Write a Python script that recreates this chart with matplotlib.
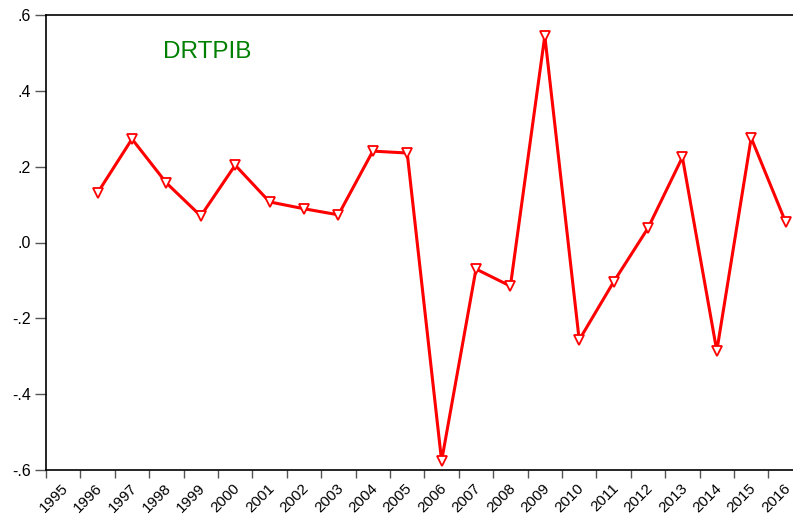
import matplotlib
matplotlib.use("Agg")
import matplotlib.pyplot as plt
import numpy as np

plt.rcParams['font.family'] = ['Liberation Sans', 'DejaVu Sans']

years = list(range(1996, 2017))
values = [0.131, 0.273, 0.157, 0.070, 0.204, 0.107, 0.089, 0.073, 0.241, 0.236,
          -0.576, -0.070, -0.115, 0.545, -0.257, -0.104, 0.038, 0.225, -0.286, 0.276, 0.054]
tick_years = list(range(1995, 2017))
ytick_vals = [-0.6, -0.4, -0.2, 0.0, 0.2, 0.4, 0.6]
ytick_labels = ['-.6', '-.4', '-.2', '.0', '.2', '.4', '.6']

fig = plt.figure(figsize=(7.93, 5.18), dpi=100)
ax = fig.add_axes([46/793, 48/518, 1 - 46/793, (470-15)/518])

x = np.array(years) + 0.5
ax.plot(x, values, color='#ff0000', linewidth=2.2, marker='v', markersize=6.5,
        markerfacecolor='white', markeredgecolor='#ff0000', markeredgewidth=1.3)

ax.set_xlim(1995, 1995 + (793 - 46) / 34.4)
ax.set_ylim(-0.6, 0.6)
ax.set_xticks(tick_years)
ax.set_xticklabels([str(t) for t in tick_years], rotation=45, ha='right',
                   rotation_mode='anchor', fontsize=11)
ax.set_yticks(ytick_vals)
ax.set_yticklabels(ytick_labels, fontsize=11.5)
ax.tick_params(axis='x', direction='out', length=6, width=1, color='#555555', pad=2)
ax.tick_params(axis='y', direction='out', length=8, width=1, color='#555555', pad=3)
for lbl in ax.get_xticklabels():
    lbl.set_transform(lbl.get_transform() + matplotlib.transforms.ScaledTranslation(0.15, 0, fig.dpi_scale_trans))
ax.spines['right'].set_visible(False)
for s in ['left', 'top', 'bottom']:
    ax.spines[s].set_linewidth(1.2)
    ax.spines[s].set_color('black')

ax.text(207/793, 1 - 52/518, 'DRTPIB', transform=fig.transFigure, color='#008000',
        fontsize=17.5, ha='center', va='center')

fig.savefig('out.png', dpi=100)
